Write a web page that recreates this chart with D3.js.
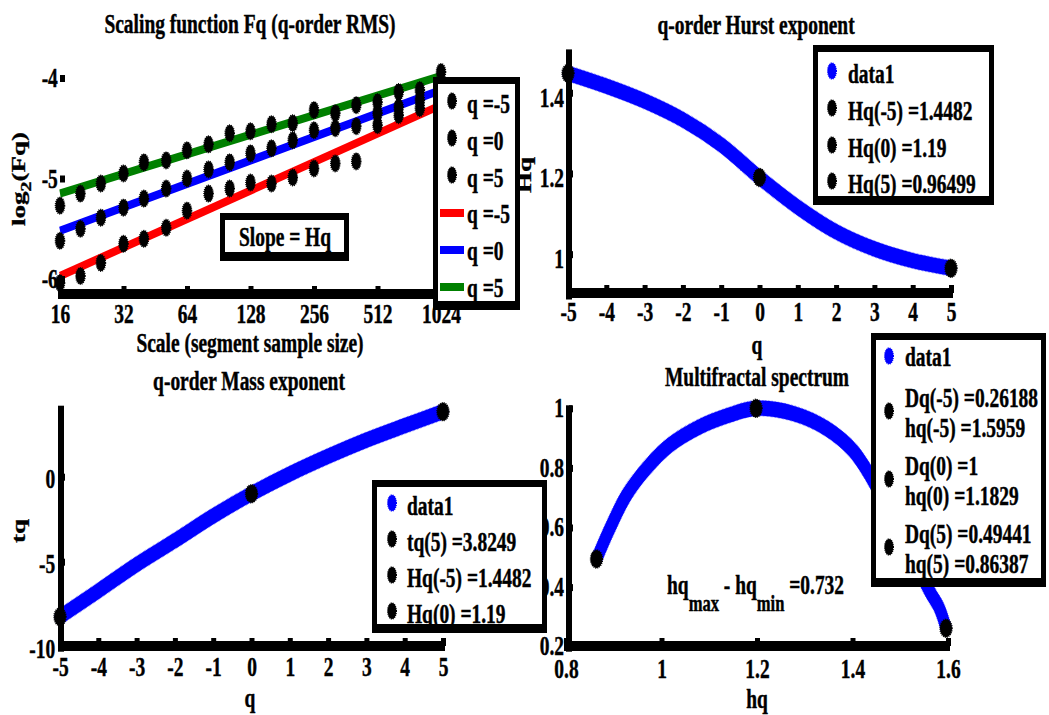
<!DOCTYPE html>
<html>
<head>
<meta charset="utf-8">
<script src="https://cdn.jsdelivr.net/npm/d3@7"></script>
<style>
  body { margin: 0; background: #fff; }
  text { font-family: "Liberation Serif", "Times New Roman", serif; font-weight: bold; font-size: 27px;
         fill: #000; stroke: #000; stroke-width: 0.45px; }
</style>
</head>
<body>
<svg id="fig" width="1049" height="715"></svg>
<script>
// ---- data ----
// panel 1 : scaling function, log2(Fq) per segment size
var scales = [16, 20, 25, 32, 40, 51, 64, 81, 102, 128, 161, 203, 256, 323, 406, 512, 645, 813, 1024];
var fqNeg5 = [-6.04, -5.97, -5.84, -5.65, -5.60, -5.49, -5.32, -5.15, -5.10, -5.04, -5.05, -4.99, -4.90, -4.85, -4.83, -4.47, -4.37, -4.30, -4.22];
var fqZero = [-5.62, -5.50, -5.39, -5.29, -5.20, -5.10, -5.00, -4.91, -4.84, -4.75, -4.70, -4.62, -4.52, -4.50, -4.48, -4.35, -4.29, -4.22, -4.08];
var fqPos5 = [-5.27, -5.15, -5.05, -4.95, -4.84, -4.82, -4.72, -4.66, -4.55, -4.53, -4.46, -4.45, -4.32, -4.35, -4.27, -4.24, -4.14, -4.12, -3.94];
var fitEnds = [16, 1024];
var fitNeg5 = [-5.97, -4.27];
var fitZero = [-5.52, -4.12];
var fitPos5 = [-5.15, -3.98];
var scaleTicks = [16, 32, 64, 128, 256, 512, 1024];

// panel 2 : q-order Hurst exponent
var qGrid = [-5, -4, -3, -2, -1, 0, 1, 2, 3, 4, 5];
var hq = [1.4482, 1.4165, 1.3795, 1.333, 1.271, 1.19, 1.1165, 1.0555, 1.013, 0.984, 0.96499];
var hqMarkQ = [-5, 0, 5];
var hqMarkV = [1.4482, 1.19, 0.96499];

// panel 3 : mass exponent
var tq = [-8.241, -6.72, -5.17, -3.76, -2.31, -1.0, 0.16, 1.2, 2.15, 3.0, 3.8249];
var tqMarkQ = [-5, 0, 5];
var tqMarkV = [-8.241, -1.0, 3.8249];

// panel 4 : multifractal spectrum (the stretch under the legend is left out)
var specH = [0.864, 0.892, 0.927, 0.969, 1.018, 1.080, 1.143, 1.197, 1.275, 1.345, 1.40, 1.436, 1.562, 1.582, 1.596];
var specD = [0.494, 0.597, 0.709, 0.799, 0.877, 0.938, 0.978, 1.0, 0.983, 0.933, 0.86, 0.776, 0.385, 0.329, 0.262];
var specMarkH = [0.86387, 1.198, 1.5959];
var specMarkD = [0.49441, 1, 0.26188];

var qTicks = [-5, -4, -3, -2, -1, 0, 1, 2, 3, 4, 5];
var legend1 = ["q =-5", "q =0", "q =5", "q =-5", "q =0", "q =5"];
var legend2 = ["data1", "Hq(-5) =1.4482", "Hq(0) =1.19", "Hq(5) =0.96499"];
var legend3 = ["data1", "tq(5) =3.8249", "Hq(-5) =1.4482", "Hq(0) =1.19"];
var legend4 = [["data1"], ["Dq(-5) =0.26188", "hq(-5) =1.5959"], ["Dq(0) =1", "hq(0) =1.1829"], ["Dq(5) =0.49441", "hq(5) =0.86387"]];

// ---- drawing helpers ----
var svg = d3.select("#fig"),
  SX = 0.72,   // glyphs in the picture are squeezed sideways
  VS = 1.38,   // strokes look taller than wide
  BLUE = "#0000ff", RED = "#ff0000", GREEN = "#008000";

function txt(g, x, y, s, anchor) {
  return g.append("text")
    .attr("transform", "translate(" + x + "," + y + ") scale(" + SX + ",1)")
    .attr("text-anchor", anchor || "start")
    .text(s);
}
function vtxt(g, x, y) {
  return g.append("text")
    .attr("transform", "translate(" + x + "," + y + ") rotate(-90) scale(1," + SX + ")")
    .attr("text-anchor", "middle");
}
function bar(g, x0, y0, x1, y1, col) {
  g.append("rect").attr("x", x0).attr("y", y0)
    .attr("width", x1 - x0).attr("height", y1 - y0).attr("fill", col || "#000");
}
function box(g, x0, y0, x1, y1) {
  bar(g, x0, y0, x1, y1, "#000");
  bar(g, x0 + 5, y0 + 7, x1 - 5, y1 - 9, "#fff");
}
function blob(g, x, y, rx, ry, col) {
  g.append("ellipse").attr("cx", x).attr("cy", y).attr("rx", rx).attr("ry", ry)
    .attr("fill", col).attr("stroke", col).attr("stroke-width", 1.4)
    .attr("stroke-dasharray", "1,1");
}
// thick stroke that is taller than wide
function band(g, xs, ys, xv, yv, col, w, curve, fuzzy) {
  var yk = ys.copy().range(ys.range().map(function (v) { return v / VS; }));
  var line = d3.line()
    .x(function (d, i) { return xs(xv[i]); })
    .y(function (d, i) { return yk(yv[i]); })
    .curve(curve || d3.curveLinear);
  var gg = g.append("g").attr("transform", "scale(1," + VS + ")");
  gg.append("path").datum(xv).attr("d", line)
    .attr("fill", "none").attr("stroke", col).attr("stroke-width", w)
    .attr("stroke-linecap", fuzzy ? "round" : "butt");
  if (fuzzy) {
    gg.append("path").datum(xv).attr("d", line)
      .attr("fill", "none").attr("stroke", col).attr("stroke-width", w + 1)
      .attr("stroke-opacity", 0.6).attr("stroke-dasharray", "0.7,0.7");
  }
}
function xAxis(g, scale, y, vals, fmt, pad) {
  var ax = g.append("g").attr("transform", "translate(0," + y + ")")
    .call(d3.axisBottom(scale).tickValues(vals).tickFormat(fmt)
      .tickSizeInner(-8).tickSizeOuter(0).tickPadding(pad));
  ax.select(".domain").remove();
  ax.selectAll(".tick line").attr("stroke", "#000").attr("stroke-width", 5);
  ax.selectAll(".tick text").attr("transform", "scale(" + SX + ",1)");
  var r = scale.range();
  bar(g, r[0] - 2, y - 5, r[1] + 2, y + 5);
  return ax;
}
function yAxis(g, scale, x, vals, fmt, pad, dy, tick, line) {
  var ax = g.append("g").attr("transform", "translate(" + x + ",0)")
    .call(d3.axisLeft(scale).tickValues(vals).tickFormat(fmt)
      .tickSizeInner(-tick).tickSizeOuter(0).tickPadding(pad));
  ax.select(".domain").remove();
  ax.selectAll(".tick line").attr("stroke", "#000").attr("stroke-width", 7);
  ax.selectAll(".tick text").attr("transform", "scale(" + SX + ",1)").attr("dy", dy);
  if (line) {
    var r = scale.range();
    bar(g, x - 3, r[1] - 3, x + 3, r[0] + 5);
  }
  return ax;
}
var plain = function (d) { return String(d); };

// ---- panel 1 : scaling function ----
var p1 = svg.append("g");
var x1 = d3.scaleLog().base(2).domain([16, 1024]).range([60, 441]);
var y1 = d3.scaleLinear().domain([-6, -4]).range([279, 78]);

band(p1, x1, y1, fitEnds, fitNeg5, RED, 6);
band(p1, x1, y1, fitEnds, fitZero, BLUE, 6);
band(p1, x1, y1, fitEnds, fitPos5, GREEN, 6);
[fqNeg5, fqZero, fqPos5].forEach(function (ser) {
  scales.forEach(function (s, i) { blob(p1, x1(s), y1(ser[i]), 4.6, 8.3, "#000"); });
});
xAxis(p1, x1, 294, scaleTicks, d3.format("d"), 10);
yAxis(p1, y1, 60, [-6, -5, -4], plain, 3, "0.32em", 5, false);
txt(p1, 250, 33, "Scaling function Fq (q-order RMS)", "middle");
txt(p1, 250, 352, "Scale (segment sample size)", "middle");
var lab1 = vtxt(p1, 25, 179);
lab1.append("tspan").text("log");
lab1.append("tspan").attr("dy", 8).style("font-size", "20px").text("2");
lab1.append("tspan").attr("dy", -8).text("(Fq)");
box(p1, 220, 213, 349, 261);
txt(p1, 285, 246, "Slope = Hq", "middle");

// ---- panel 2 : Hurst exponent ----
var p2 = svg.append("g");
var x2 = d3.scaleLinear().domain([-5, 5]).range([568, 951]);
var y2 = d3.scaleLinear().domain([0.9, 1.5]).range([294.5, 52.4]);
band(p2, x2, y2, qGrid, hq, BLUE, 11, d3.curveCatmullRom, true);
hqMarkQ.forEach(function (q, i) { blob(p2, x2(q), y2(hqMarkV[i]), 6, 9, "#000"); });
xAxis(p2, x2, 293, qTicks, plain, 9);
yAxis(p2, y2, 569, [1, 1.2, 1.4], plain, 7, "0.5em", 4, true);
txt(p2, 756, 34, "q-order Hurst exponent", "middle");
txt(p2, 757, 354, "q", "middle");
vtxt(p2, 531, 175).text("Hq");

// ---- panel 3 : mass exponent ----
var p3 = svg.append("g");
var x3 = d3.scaleLinear().domain([-5, 5]).range([60, 443]);
var y3 = d3.scaleLinear().domain([-10, 4]).range([646.7, 408.7]);
band(p3, x3, y3, qGrid, tq, BLUE, 11, d3.curveCatmullRom, true);
tqMarkQ.forEach(function (q, i) { blob(p3, x3(q), y3(tqMarkV[i]), 6, 9, "#000"); });
xAxis(p3, x3, 646, qTicks, plain, 11);
yAxis(p3, y3, 61, [-10, -5, 0], plain, 8, "0.4em", 4, true);
txt(p3, 249, 390, "q-order Mass exponent", "middle");
txt(p3, 250, 707, "q", "middle");
vtxt(p3, 25, 531).text("tq");

// ---- panel 4 : multifractal spectrum ----
var p4 = svg.append("g");
var x4 = d3.scaleLinear().domain([0.8, 1.6]).range([566, 948]);
var y4 = d3.scaleLinear().domain([0.2, 1]).range([646.7, 408.3]);
band(p4, x4, y4, specH, specD, BLUE, 11, d3.curveCatmullRom, true);
specMarkH.forEach(function (h, i) { blob(p4, x4(h), y4(specMarkD[i]), 6, 9, "#000"); });
xAxis(p4, x4, 646, [0.8, 1, 1.2, 1.4, 1.6], plain, 13);
yAxis(p4, y4, 569, [0.2, 0.4, 0.6, 0.8, 1], plain, 7, "0.3em", 4, true);
txt(p4, 757, 386, "Multifractal spectrum", "middle");
txt(p4, 757, 708, "hq", "middle");
var ann = txt(p4, 667, 594, "", "start");
ann.append("tspan").text("hq");
ann.append("tspan").attr("dy", 17).style("font-size", "23px").text("max");
ann.append("tspan").attr("dy", -17).text(" - hq");
ann.append("tspan").attr("dy", 17).style("font-size", "23px").text("min");
ann.append("tspan").attr("dy", -17).text(" =0.732");

// ---- legends (drawn last, on top) ----
var lg = svg.append("g");

// legend of panel 1
box(lg, 433, 77, 520, 310);
var rows1 = [103, 140, 177, 213, 250, 287];
var cols1 = [null, null, null, RED, BLUE, GREEN];
legend1.forEach(function (s, i) {
  if (cols1[i]) bar(lg, 440, rows1[i] - 4, 464, rows1[i] + 4, cols1[i]);
  else blob(lg, 452, rows1[i] - 2, 4.3, 8, "#000");
  txt(lg, 467, rows1[i] + 10, s);
});

// legend of panel 2
box(lg, 813, 45, 994, 205);
var rows2 = [73, 110, 147, 183];
legend2.forEach(function (s, i) {
  blob(lg, 832, rows2[i] - 2, 4.3, 8, i === 0 ? BLUE : "#000");
  txt(lg, 848, rows2[i] + 10, s);
});

// legend of panel 3
box(lg, 372, 480, 547, 633);
var rows3 = [505, 541, 577, 613];
legend3.forEach(function (s, i) {
  blob(lg, 392, rows3[i] - 2, 4.3, 8, i === 0 ? BLUE : "#000");
  txt(lg, 407, rows3[i] + 10, s);
});

// legend of panel 4
box(lg, 871, 333, 1046, 587);
var rows4 = [356, 411, 479, 547];
legend4.forEach(function (lines, i) {
  blob(lg, 889, rows4[i], 4.3, 8, i === 0 ? BLUE : "#000");
  lines.forEach(function (s, j) {
    var yy = lines.length === 1 ? rows4[i] + 10 : rows4[i] - 4 + j * 30;
    txt(lg, 905, yy, s);
  });
});
</script>
</body>
</html>
